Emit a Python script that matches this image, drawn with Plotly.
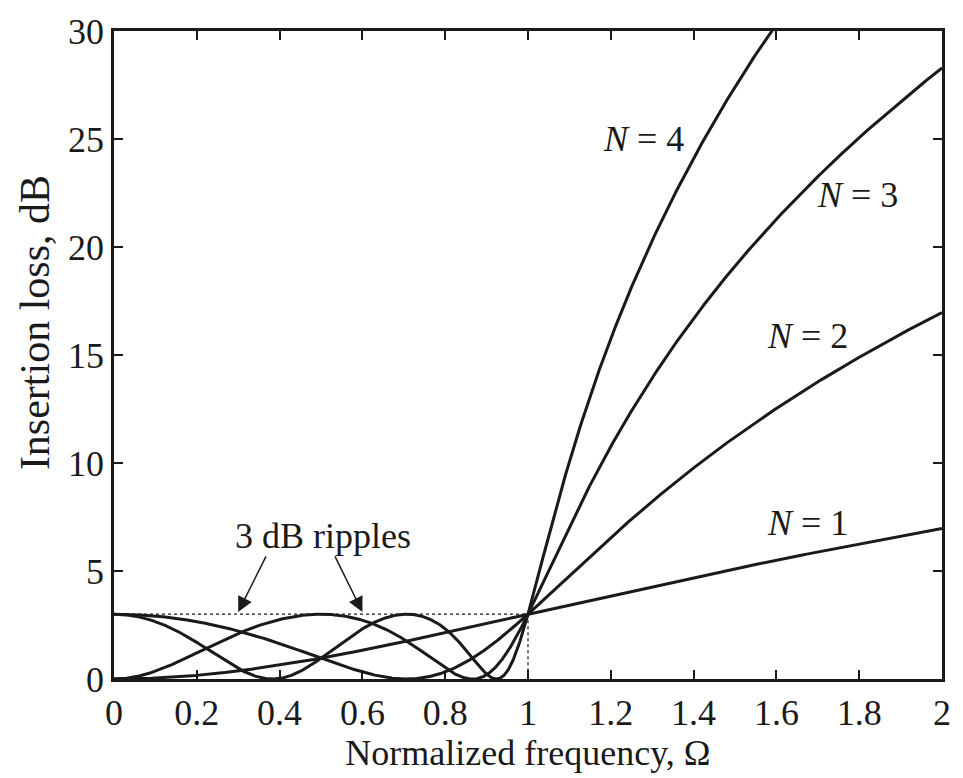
import numpy as np
import plotly.graph_objects as go

# Chebyshev low-pass response: filter orders and pass-band ripple
orders = [1, 2, 3, 4]
ripple_db = 3.0
omega_max = 2.0
label_text = ["<i>N</i> = 1", "<i>N</i> = 2", "<i>N</i> = 3", "<i>N</i> = 4"]
label_x = [1.674, 1.674, 1.795, 1.278]
label_y = [7.2, 15.9, 22.4, 25.0]
arrow_tips_x = [0.3, 0.6]
arrow_tails_x = [0.369, 0.532]
x_ticks = [0, 0.2, 0.4, 0.6, 0.8, 1, 1.2, 1.4, 1.6, 1.8, 2]
x_tick_text = ["0", "0.2", "0.4", "0.6", "0.8", "1", "1.2", "1.4", "1.6", "1.8", "2"]
y_ticks = [0, 5, 10, 15, 20, 25, 30]

eps2 = 10 ** (ripple_db / 10) - 1
omega = np.linspace(0, omega_max, 2001)


def cheb(n, w):
    w = np.asarray(w, dtype=float)
    out = np.empty_like(w)
    inside = np.abs(w) <= 1
    out[inside] = np.cos(n * np.arccos(w[inside]))
    out[~inside] = np.cosh(n * np.arccosh(np.abs(w[~inside])))
    return out


FONT = "Liberation Serif, Times New Roman, Times, serif"
INK = "#1a1a1a"
fig = go.Figure()

# dotted 3 dB reference lines
fig.add_trace(go.Scatter(x=[0, 1, 1], y=[ripple_db, ripple_db, 0], mode="lines",
                         line=dict(color=INK, width=1.2, dash="dot"),
                         showlegend=False, hoverinfo="skip"))

for n in orders:
    il = 10 * np.log10(1 + eps2 * cheb(n, omega) ** 2)
    fig.add_trace(go.Scatter(x=omega, y=il, mode="lines",
                             line=dict(color=INK, width=3),
                             showlegend=False, name=f"N = {n}"))

for t, x, y in zip(label_text, label_x, label_y):
    fig.add_annotation(x=x, y=y, text=t, showarrow=False,
                       xanchor="center", yanchor="middle",
                       font=dict(family=FONT, size=36, color=INK))

fig.add_annotation(x=0.504, y=6.6, text="3 dB ripples", showarrow=False,
                   xanchor="center", yanchor="middle",
                   font=dict(family=FONT, size=36, color=INK))
for tx, ox in zip(arrow_tips_x, arrow_tails_x):
    fig.add_annotation(x=tx, y=ripple_db + 0.1, ax=ox, ay=5.75, axref="x", ayref="y",
                       xref="x", yref="y", text="", showarrow=True,
                       arrowhead=2, arrowsize=2, arrowwidth=1.5,
                       arrowcolor=INK)

# y-axis title placed as free text
fig.add_annotation(x=-0.096, y=0.55, xref="paper", yref="paper",
                   xanchor="center", yanchor="middle",
                   text="Insertion loss, dB", textangle=-90, showarrow=False,
                   font=dict(family=FONT, size=42, color=INK))

axis_common = dict(showline=True, linecolor=INK, linewidth=2.5, mirror="ticks",
                   ticks="inside", ticklen=9, tickwidth=2, tickcolor=INK,
                   showgrid=False, zeroline=False,
                   tickfont=dict(family=FONT, size=36, color=INK))

fig.update_xaxes(range=[0, omega_max], tickvals=x_ticks, ticktext=x_tick_text,
                 title=dict(text="Normalized frequency, Ω", standoff=8,
                            font=dict(family=FONT, size=36, color=INK)),
                 **axis_common)
fig.update_yaxes(range=[0, 30], tickvals=y_ticks, **axis_common)

fig.update_layout(width=963, height=778, margin=dict(l=114, r=15, t=23, b=98),
                  plot_bgcolor="white", paper_bgcolor="white")

fig.write_html("out.html")
